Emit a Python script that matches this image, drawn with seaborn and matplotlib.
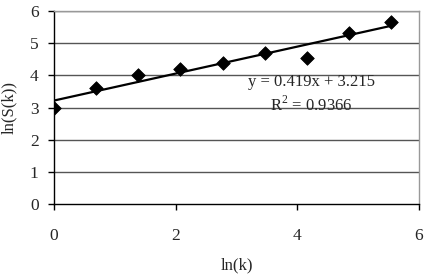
import numpy as np
import pandas as pd
import matplotlib
matplotlib.use("Agg")
import matplotlib.pyplot as plt
import seaborn as sns

ln_k = [0.0, 0.693, 1.386, 2.079, 2.773, 3.466, 4.159, 4.852, 5.545]
ln_S = [2.98, 3.61, 4.02, 4.19, 4.38, 4.70, 4.53, 5.33, 5.67]
eq_text = "y = 0.419x + 3.215"
r2_text = "R$^2$ = 0.9366"
x_ticks = [0, 2, 4, 6]
y_ticks = [0, 1, 2, 3, 4, 5, 6]

sns.set_style("white")
plt.rcParams['font.family'] = ['Liberation Serif', 'DejaVu Serif']
plt.rcParams['mathtext.fontset'] = 'custom'
plt.rcParams['mathtext.rm'] = 'Liberation Serif'

df = pd.DataFrame({"lnk": ln_k, "lnS": ln_S})

fig = plt.figure(figsize=(4.28, 2.76), dpi=100)
ax = fig.add_axes([0.126, 0.261, 0.853, 0.699])

for y in y_ticks[1:]:
    ax.axhline(y, color="#555555", lw=1.0, zorder=0)

sns.regplot(data=df, x="lnk", y="lnS", ax=ax, ci=None, truncate=True,
            scatter=False, line_kws=dict(color="black", lw=1.6, zorder=2))
sns.scatterplot(data=df, x="lnk", y="lnS", ax=ax, marker="D", s=48,
                color="black", edgecolor="black", zorder=3, legend=False)

ax.set_xlim(0, 6)
ax.set_ylim(0, 6)
ax.set_xticks(x_ticks)
ax.set_yticks(y_ticks)
ax.tick_params(axis="both", labelsize=12.5, direction="out", length=4, width=1,
               color="black", pad=7, bottom=True, left=True)
ax.tick_params(axis="x", pad=13)

for s in ["left", "bottom"]:
    ax.spines[s].set_color("black")
    ax.spines[s].set_linewidth(1.0)
for s in ["top", "right"]:
    ax.spines[s].set_color("#999999")
    ax.spines[s].set_linewidth(1.0)

ax.set_xlabel("ln(k)", fontsize=12, labelpad=10)
ax.set_ylabel("ln(S(k))", fontsize=12, labelpad=9)

ax.text(4.23, 3.79, eq_text, ha="center", va="center", fontsize=12)
ax.text(4.23, 3.07, r2_text, ha="center", va="center", fontsize=12)

fig.savefig("out.png", dpi=100)
